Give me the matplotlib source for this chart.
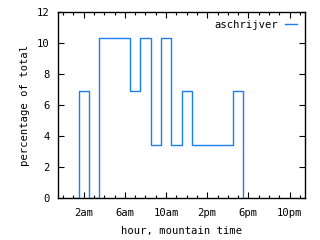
import matplotlib
matplotlib.use("Agg")
import matplotlib.pyplot as plt
import numpy as np

hours = [1, 2, 3, 4, 5, 6, 7, 8, 9, 10, 11, 12, 13, 14, 15, 16, 17, 18]
percent = [0, 6.9, 0, 10.34, 10.34, 10.34, 6.9, 10.34, 3.45, 10.34, 3.45, 6.9,
           3.45, 3.45, 3.45, 3.45, 6.9, 0]
xtick_pos = [2, 6, 10, 14, 18, 22]
xtick_labels = ['2am', '6am', '10am', '2pm', '6pm', '10pm']
yticks = [0, 2, 4, 6, 8, 10, 12]

plt.rcParams['font.family'] = ['DejaVu Sans Mono']
plt.rcParams['font.size'] = 7.6

fig = plt.figure(figsize=(3.2, 2.4), dpi=100)
ax = fig.add_axes([58/320, 42/240, 247/320, 186/240])

# histogram steps centred on each hour
ax.step(hours, percent, where='mid', color='#1a7ff0', lw=1.0, label='aschrijver', zorder=1)

ax.set_xlim(-0.5, 23.5)
ax.set_ylim(0, 12)
ax.set_xticks(xtick_pos)
ax.set_xticklabels(xtick_labels)
ax.set_xticks(np.arange(0, 24), minor=True)
ax.set_yticks(yticks)
ax.tick_params(which='both', direction='in', top=True, right=True, width=0.8, color='black')
ax.tick_params(which='major', length=4)
ax.tick_params(axis='x', which='major', pad=7)
ax.tick_params(axis='y', which='major', pad=6)
ax.tick_params(which='minor', length=2.5)
ax.tick_params(axis='y', which='minor', left=False, right=False)
for s in ax.spines.values():
    s.set_linewidth(1.0)
    s.set_zorder(3)

ax.set_xlabel('hour, mountain time', labelpad=6)
ax.set_ylabel('percentage of total', labelpad=5)

leg = ax.legend(loc='upper right', frameon=False, markerfirst=False, handlelength=1.1,
                handletextpad=0.7, borderaxespad=0.35, fontsize=7.6)

fig.savefig('out.png', dpi=100)
